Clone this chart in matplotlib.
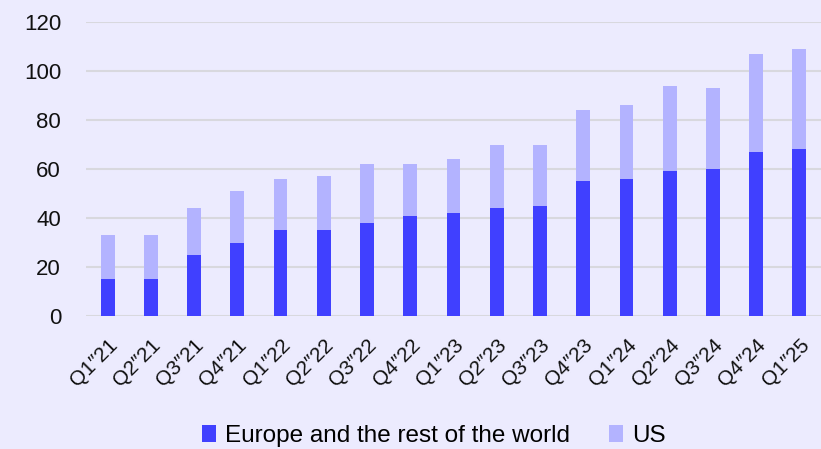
import matplotlib.pyplot as plt
import numpy as np

quarters = ["Q1\u203321", "Q2\u203321", "Q3\u203321", "Q4\u203321", "Q1\u203322", "Q2\u203322",
            "Q3\u203322", "Q4\u203322", "Q1\u203323", "Q2\u203323", "Q3\u203323", "Q4\u203323",
            "Q1\u203324", "Q2\u203324", "Q3\u203324", "Q4\u203324", "Q1\u203325"]
europe = [15, 15, 25, 30, 35, 35, 38, 41, 42, 44, 45, 55, 56, 59, 60, 67, 68]
totals = [33, 33, 44, 51, 56, 57, 62, 62, 64, 70, 70, 84, 86, 94, 93, 107, 109]
us = [t - e for t, e in zip(totals, europe)]

bg = '#ECEBFE'
dark = '#4040FF'
light = '#B3B3FF'

plt.rcParams['font.family'] = ['Liberation Sans', 'DejaVu Sans']

fig = plt.figure(figsize=(8.21, 4.49), dpi=100, facecolor=bg)
ax = fig.add_axes([86 / 821, 1 - 316 / 449, 735 / 821, 294 / 449])
ax.set_facecolor(bg)

x = np.arange(len(quarters))
ax.bar(x, europe, width=0.32, color=dark, label='Europe and the rest of the world', zorder=3)
ax.bar(x, us, bottom=europe, width=0.32, color=light, label='US', zorder=3)

ax.set_xlim(-0.5, len(quarters) - 0.5)
ax.set_ylim(0, 120)
ax.set_yticks(range(0, 121, 20))
ax.grid(axis='y', color='#D8D8DE', linewidth=1.5, zorder=0)
ax.set_xticks(x)
ax.set_xticklabels(quarters, rotation=45, ha='right', rotation_mode='anchor')
ax.tick_params(axis='both', length=0, colors='#111111')
ax.tick_params(axis='x', pad=14, labelsize=15)
ax.tick_params(axis='y', pad=18, labelsize=16)
for s in ax.spines.values():
    s.set_visible(False)

fig.legend(loc='center', bbox_to_anchor=(0.528, 1 - 436 / 449), ncol=2, frameon=False,
           fontsize=17.5, handlelength=0.6, handleheight=0.7, handletextpad=0.35,
           columnspacing=1.6)

fig.savefig('out.png', dpi=100, facecolor=bg)
